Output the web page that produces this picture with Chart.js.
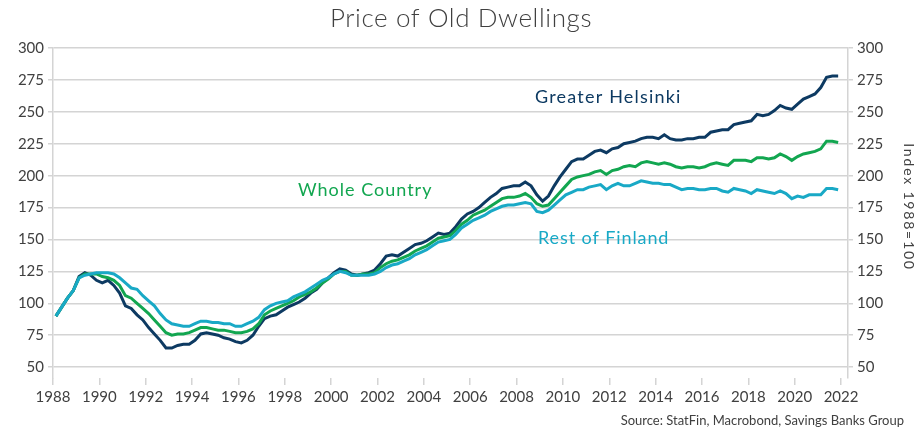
<!DOCTYPE html>
<html>
<head>
<meta charset="utf-8">
<script src="https://cdn.jsdelivr.net/npm/chart.js@4.4.1/dist/chart.umd.min.js"></script>
<style>
  html, body { margin: 0; padding: 0; background: #fff; }
  #wrap { width: 921px; height: 431px; position: relative; }
</style>
</head>
<body>
<div id="wrap"><canvas id="chart" width="921" height="431"></canvas></div>
<script>
// Quarterly price index of old dwellings, 1988Q1 - 2021Q4 (1988 = 100)
const firstYear = 1988;
const yearTicks = [1988, 1990, 1992, 1994, 1996, 1998, 2000, 2002, 2004, 2006, 2008, 2010, 2012, 2014, 2016, 2018, 2020, 2022];
const indexTicks = [50, 75, 100, 125, 150, 175, 200, 225, 250, 275, 300];

const greaterHelsinki = [
  90, 97, 104, 110, 121, 124, 122, 118, 116, 118, 114, 108,
  98, 96, 91, 87, 81, 76, 71, 65, 65, 67, 68, 68,
  71, 76, 77, 76, 75, 73, 72, 70, 69, 71, 75, 82,
  88, 90, 91, 94, 97, 99, 101, 104, 108, 111, 116, 120,
  124, 127, 126, 123, 122, 123, 124, 126, 131, 137, 138, 137,
  140, 143, 146, 147, 149, 152, 155, 154, 155, 160, 166, 170,
  172, 175, 179, 183, 186, 190, 191, 192, 192, 195, 192, 185,
  180, 184, 192, 199, 205, 211, 213, 213, 216, 219, 220, 218,
  221, 222, 225, 226, 227, 229, 230, 230, 229, 232, 229, 228,
  228, 229, 229, 230, 230, 234, 235, 236, 236, 240, 241, 242,
  243, 248, 247, 248, 251, 255, 253, 252, 256, 260, 262, 264,
  269, 277, 278, 278
];

const wholeCountry = [
  90, 97, 104, 110, 120, 123, 123, 123, 121, 120, 118, 114,
  106, 104, 100, 96, 92, 87, 82, 77, 75, 76, 76, 77,
  79, 81, 81, 80, 79, 79, 78, 77, 77, 78, 80, 84,
  91, 94, 96, 98, 100, 102, 105, 107, 109, 112, 116, 119,
  123, 125, 125, 122, 122, 123, 123, 124, 128, 131, 133, 134,
  136, 138, 141, 143, 145, 148, 151, 152, 153, 157, 162, 165,
  169, 171, 173, 176, 179, 182, 183, 183, 184, 186, 183, 178,
  176, 177, 182, 187, 192, 197, 199, 200, 201, 203, 204, 201,
  204, 205, 207, 208, 207, 210, 211, 210, 209, 210, 209, 207,
  206, 207, 207, 206, 207, 209, 210, 209, 208, 212, 212, 212,
  211, 214, 214, 213, 214, 217, 215, 212, 215, 217, 218, 219,
  221, 227, 227, 226
];

const restOfFinland = [
  90, 97, 104, 110, 120, 122, 123, 124, 124, 124, 123, 120,
  116, 112, 111, 106, 102, 98, 92, 87, 84, 83, 82, 82,
  84, 86, 86, 85, 85, 84, 84, 82, 82, 84, 86, 89,
  95, 98, 100, 101, 102, 105, 107, 109, 112, 115, 118, 120,
  123, 125, 124, 122, 122, 122, 122, 123, 125, 128, 130, 131,
  133, 135, 138, 140, 142, 145, 148, 149, 150, 154, 159, 162,
  165, 167, 169, 172, 174, 176, 177, 177, 178, 179, 178, 172,
  171, 173, 177, 181, 185, 187, 189, 189, 191, 192, 193, 189,
  192, 194, 192, 192, 194, 196, 195, 194, 194, 193, 193, 191,
  189, 190, 190, 189, 189, 190, 190, 188, 187, 190, 189, 188,
  186, 189, 188, 187, 186, 188, 186, 182, 184, 183, 185, 185,
  185, 190, 190, 189
];

const seriesNames = ['Greater Helsinki', 'Whole Country', 'Rest of Finland'];
const seriesColors = ['#0d3a62', '#12a650', '#19a9c6'];

// place each quarter in the middle of its quarter on a decimal-year axis
const toPoints = values => values.map((v, i) => ({ x: firstYear + i / 4 + 0.125, y: v }));

const FONT = 'Lato, "Open Sans", sans-serif';
const TEXT = '#404040';
const GRID = '#d4d4d4';

const pinWidth = w => scale => { scale.width = w; };

const textLayer = {
  id: 'textLayer',
  afterDraw(chart) {
    const ctx = chart.ctx;
    ctx.save();
    ctx.textBaseline = 'middle';

    ctx.fillStyle = TEXT;
    ctx.textAlign = 'center';
    ctx.font = '300 26px ' + FONT;
    ctx.letterSpacing = '0.6px';
    ctx.fillText('Price of Old Dwellings', 461, 19);

    // series names next to their lines
    ctx.textAlign = 'left';
    ctx.font = '18px ' + FONT;
    const labelPos = [[535, 97, 1.2], [298, 190, 1.0], [538, 238, 0.9]];
    seriesNames.forEach((name, i) => {
      ctx.fillStyle = seriesColors[i];
      ctx.letterSpacing = labelPos[i][2] + 'px';
      ctx.fillText(name, labelPos[i][0], labelPos[i][1]);
    });

    ctx.fillStyle = TEXT;
    ctx.textAlign = 'right';
    ctx.font = '13px ' + FONT;
    ctx.letterSpacing = '0px';
    ctx.fillText('Source: StatFin, Macrobond, Savings Banks Group', 904, 421);

    // right axis caption, reading top to bottom
    ctx.translate(909, 207);
    ctx.rotate(Math.PI / 2);
    ctx.textAlign = 'center';
    ctx.font = '14px ' + FONT;
    ctx.letterSpacing = '1.8px';
    ctx.fillText('Index 1988=100', 0, 0);
    ctx.restore();
  }
};

const yAxisBase = {
  type: 'linear',
  min: 41.5,
  max: 300,
  afterBuildTicks: scale => { scale.ticks = indexTicks.map(v => ({ value: v })); },
  ticks: { color: TEXT, font: { family: FONT, size: 15 }, padding: 4 },
  border: { display: true, color: GRID, width: 1.5 }
};

new Chart(document.getElementById('chart'), {
  type: 'line',
  data: {
    datasets: [greaterHelsinki, wholeCountry, restOfFinland].map((vals, i) => ({
      label: seriesNames[i],
      data: toPoints(vals),
      borderColor: seriesColors[i],
      backgroundColor: seriesColors[i],
      borderWidth: 3,
      pointRadius: 0,
      tension: 0,
      yAxisID: 'y',
      order: 3 - i
    }))
  },
  options: {
    responsive: false,
    animation: false,
    layout: { padding: { top: 48, left: 0, right: 0, bottom: 0 } },
    plugins: { legend: { display: false }, tooltip: { enabled: false } },
    scales: {
      x: {
        type: 'linear',
        min: 1988,
        max: 2022.3,
        afterBuildTicks: scale => { scale.ticks = yearTicks.map(v => ({ value: v })); },
        afterFit: scale => { scale.height = 53; },
        grid: { drawOnChartArea: false, drawTicks: true, tickLength: 7, color: GRID, lineWidth: 1.5 },
        border: { display: false },
        ticks: { color: TEXT, font: { family: FONT, size: 15 }, padding: 3, maxRotation: 0, callback: v => String(v) }
      },
      y: Object.assign({}, yAxisBase, {
        position: 'left',
        afterFit: pinWidth(53),
        grid: { color: GRID, lineWidth: 1.5, tickLength: 5 }
      }),
      y2: Object.assign({}, yAxisBase, {
        position: 'right',
        afterFit: pinWidth(73),
        grid: { drawOnChartArea: false, color: GRID, lineWidth: 1.5, tickLength: 5 }
      })
    }
  },
  plugins: [textLayer]
});
</script>
</body>
</html>
